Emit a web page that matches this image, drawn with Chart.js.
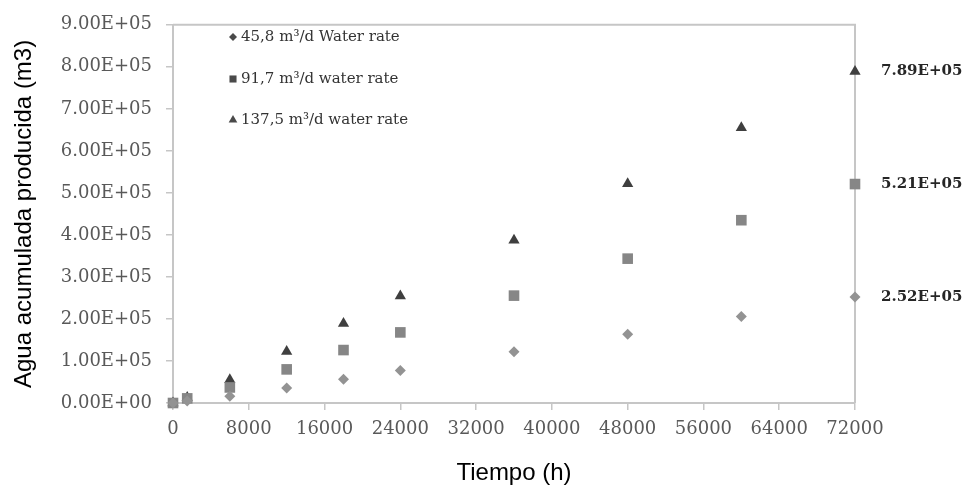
<!DOCTYPE html>
<html lang="es">
<head>
<meta charset="utf-8">
<title>Agua acumulada producida</title>
<script src="https://cdn.jsdelivr.net/npm/chart.js@4/dist/chart.umd.min.js"></script>
<style>
    html, body { margin: 0; padding: 0; background: #ffffff; }
    #wrap { width: 964px; height: 491px; position: relative; }
</style>
</head>
<body>
<div id="wrap"><canvas id="water-chart"></canvas></div>
<script>
// Cumulative water produced vs time, three injection rates

// ── Data ──────────────────────────────────────────────────────────────

const TIME_H = [0, 1500, 6000, 12000, 18000, 24000, 36000, 48000, 60000, 72000];

const LABELS = [
    '45,8 m³/d Water rate',
    '91,7 m³/d water rate',
    '137,5 m³/d water rate',
];

const RATE_45 = [0, 5000, 16000, 35500, 56500, 77500, 122000, 163500, 206000, 252000];
const RATE_91 = [0, 11000, 37000, 80000, 126000, 168000, 255500, 343500, 435000, 521000];
const RATE_137 = [0, 13000, 55500, 122500, 189000, 254500, 387000, 521500, 655000, 789000];

const Y_MAX = 900000;
const Y_STEP = 100000;
const X_MAX = 72000;
const X_STEP = 8000;

const COLORS = {
    diamond: '#939393',
    square: '#868686',
    triangle: '#3f3f3f',
    legendMarker: '#4a4a4a',
    axis: '#c6c6c6',
    tick: '#595959',
    text: '#333333',
    label: '#262626',
    title: '#000000',
};

// ── Helpers ───────────────────────────────────────────────────────────

function sci(v) {
    const [m, e] = v.toExponential(2).split('e');
    const n = parseInt(e, 10);
    return `${m}E${n < 0 ? '-' : '+'}${String(Math.abs(n)).padStart(2, '0')}`;
}

function toPoints(ys) {
    return TIME_H.map((x, i) => ({ x, y: ys[i] }));
}

// ── Plugins ───────────────────────────────────────────────────────────

// top + right frame lines of the plot box (drawn under the points)
const frame = {
    id: 'frame',
    beforeDatasetsDraw(chart) {
        const { ctx, chartArea: a } = chart;
        ctx.save();
        ctx.strokeStyle = COLORS.axis;
        ctx.lineWidth = 2;
        ctx.beginPath();
        ctx.moveTo(a.left, a.top);
        ctx.lineTo(a.right, a.top);
        ctx.lineTo(a.right, a.bottom);
        ctx.stroke();
        ctx.restore();
    }
};

// legend drawn inside the plot, top-left
const insideLegend = {
    id: 'insideLegend',
    afterDraw(chart) {
        const { ctx } = chart;
        const x = chart.chartArea.left + 60;
        const rows = [37, 79, 120];
        const radii = [4, 5, 5];
        ctx.save();
        ctx.font = '15px "DejaVu Serif"';
        ctx.textBaseline = 'middle';
        chart.data.datasets.forEach((ds, i) => {
            ctx.fillStyle = COLORS.legendMarker;
            ctx.strokeStyle = COLORS.legendMarker;
            Chart.helpers.drawPoint(ctx, {
                pointStyle: ds.pointStyle, radius: radii[i], rotation: 0, borderWidth: 0
            }, x, rows[i]);
            ctx.fillStyle = COLORS.text;
            ctx.fillText(ds.label, x + 8, rows[i]);
        });
        ctx.restore();
    }
};

// value labels next to the last point of each series
const endLabels = {
    id: 'endLabels',
    afterDatasetsDraw(chart) {
        const { ctx } = chart;
        ctx.save();
        ctx.font = 'bold 15px "DejaVu Serif"';
        ctx.fillStyle = COLORS.label;
        ctx.textBaseline = 'middle';
        chart.data.datasets.forEach((ds, i) => {
            const meta = chart.getDatasetMeta(i);
            const last = meta.data[meta.data.length - 1];
            const v = ds.data[ds.data.length - 1].y;
            ctx.fillText(sci(v), last.x + 26, last.y);
        });
        ctx.restore();
    }
};

// ── Chart ─────────────────────────────────────────────────────────────

function initChart() {
    const ctx = document.getElementById('water-chart').getContext('2d');
    new Chart(ctx, {
        type: 'scatter',
        data: {
            datasets: [
                {
                    label: LABELS[0],
                    data: toPoints(RATE_45),
                    pointStyle: 'rectRot',
                    pointRadius: 5.5,
                    backgroundColor: COLORS.diamond,
                    borderColor: COLORS.diamond,
                    borderWidth: 0,
                    clip: false,
                },
                {
                    label: LABELS[1],
                    data: toPoints(RATE_91),
                    pointStyle: 'rect',
                    pointRadius: 7.5,
                    backgroundColor: COLORS.square,
                    borderColor: COLORS.square,
                    borderWidth: 0,
                    clip: false,
                },
                {
                    label: LABELS[2],
                    data: toPoints(RATE_137),
                    pointStyle: 'triangle',
                    pointRadius: 6.5,
                    backgroundColor: COLORS.triangle,
                    borderColor: COLORS.triangle,
                    borderWidth: 0,
                    clip: false,
                },
            ]
        },
        options: {
            responsive: true,
            maintainAspectRatio: false,
            animation: false,
            layout: { padding: { top: 18, right: 109, left: 0, bottom: 0 } },
            plugins: {
                legend: { display: false },
                tooltip: { enabled: false },
            },
            scales: {
                x: {
                    type: 'linear',
                    min: 0,
                    max: X_MAX,
                    afterFit: (s) => { s.height = 88; },
                    ticks: {
                        stepSize: X_STEP,
                        color: COLORS.tick,
                        font: { family: 'DejaVu Serif', size: 18 },
                        padding: 9,
                        maxRotation: 0,
                        callback: (v) => String(v),
                    },
                    grid: {
                        drawOnChartArea: false,
                        color: COLORS.axis,
                        tickLength: 7,
                        lineWidth: 1.5,
                    },
                    border: { color: COLORS.axis, width: 2 },
                    title: {
                        display: true,
                        text: 'Tiempo (h)',
                        color: COLORS.title,
                        font: { family: 'Liberation Sans', size: 24 },
                        padding: { top: 0, bottom: 3 },
                    },
                },
                y: {
                    min: 0,
                    max: Y_MAX,
                    afterFit: (s) => { s.width = 173; },
                    ticks: {
                        stepSize: Y_STEP,
                        color: COLORS.tick,
                        font: { family: 'DejaVu Serif', size: 18 },
                        padding: 14,
                        callback: (v) => sci(v),
                    },
                    grid: {
                        drawOnChartArea: false,
                        color: COLORS.axis,
                        tickLength: 7,
                        lineWidth: 1.5,
                    },
                    border: { color: COLORS.axis, width: 2 },
                    title: {
                        display: true,
                        text: 'Agua acumulada producida (m3)',
                        color: COLORS.title,
                        font: { family: 'Liberation Sans', size: 24 },
                        padding: { top: 10, bottom: 0 },
                    },
                },
            },
        },
        plugins: [frame, insideLegend, endLabels],
    });
}

// ── Init ──────────────────────────────────────────────────────────────

document.addEventListener('DOMContentLoaded', initChart);
</script>
</body>
</html>
